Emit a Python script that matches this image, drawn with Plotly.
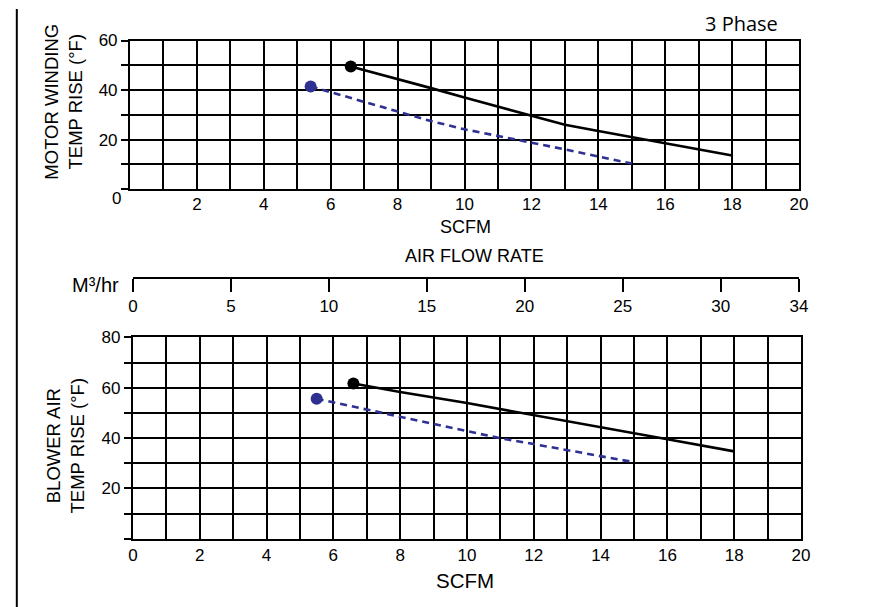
import plotly.graph_objects as go

W, H = 873, 607

# ---- data ----
top_black_x = [6.6, 8, 9, 10, 11, 12, 13, 14, 15, 16, 17, 18]
top_black_y = [49.5, 44.5, 40.8, 37, 33.4, 29.8, 26, 23.5, 21, 18.6, 16, 13.6]
top_blue_x = [5.4, 7, 8, 9, 10, 11, 12, 13, 14, 15]
top_blue_y = [41.5, 35.2, 31.2, 27.5, 24.2, 21.6, 19, 16.1, 13.2, 10.4]

bot_black_x = [6.6, 8, 10, 12, 14, 16, 18]
bot_black_y = [61.7, 58.3, 53.9, 49, 44.2, 39.5, 34.7]
bot_blue_x = [5.5, 7, 8, 9, 10, 11, 12, 13, 14, 15]
bot_blue_y = [55.6, 51.3, 48.4, 45.5, 42.8, 39.9, 37.6, 35.2, 32.8, 30.4]

x_grid = list(range(0, 21))
top_x_text = ["" if (v % 2 or v == 0) else str(v) for v in x_grid]
bot_x_text = ["" if v % 2 else str(v) for v in x_grid]
top_y_vals = [0, 10, 20, 30, 40, 50, 60]
top_y_text = ["", "", "20", "", "40", "", "60"]
bot_y_vals = [0, 10, 20, 30, 40, 50, 60, 70, 80]
bot_y_text = ["", "", "20", "", "40", "", "60", "", "80"]
m3_vals = [0, 5, 10, 15, 20, 25, 30, 34]
m3_text = [str(v) for v in m3_vals]

BLUE = "#2e3192"
FONT = "Liberation Sans, Arial, sans-serif"

def px(x):
    return x / W

def py(y):
    return 1 - y / H

fig = go.Figure()

def add_series(xs, ys, color, dash, xa, ya):
    fig.add_trace(go.Scatter(x=xs, y=ys, mode="lines", xaxis=xa, yaxis=ya,
                             line=dict(color=color, width=2.6, dash=dash),
                             showlegend=False, hoverinfo="skip"))
    fig.add_trace(go.Scatter(x=xs[:1], y=ys[:1], mode="markers", xaxis=xa, yaxis=ya,
                             marker=dict(color=color, size=12),
                             showlegend=False, hoverinfo="skip"))

add_series(top_black_x, top_black_y, "black", "solid", "x", "y")
add_series(top_blue_x, top_blue_y, BLUE, "7px,5px", "x", "y")
add_series(bot_black_x, bot_black_y, "black", "solid", "x2", "y2")
add_series(bot_blue_x, bot_blue_y, BLUE, "7px,5px", "x2", "y2")

# invisible trace for the m3/hr scale axis
fig.add_trace(go.Scatter(x=[0, 34], y=[0, 0], xaxis="x3", yaxis="y3", mode="markers",
                         marker=dict(opacity=0), showlegend=False, hoverinfo="skip"))

TICKFONT = dict(family=FONT, size=17, color="black")
common_x = dict(showgrid=True, gridcolor="black", gridwidth=2, showline=True,
                linecolor="black", linewidth=2, mirror=True, ticks="",
                zeroline=False, tickfont=TICKFONT, fixedrange=True)
common_y = dict(showgrid=True, gridcolor="black", gridwidth=2, showline=True,
                linecolor="black", linewidth=2, mirror=True, ticks="outside",
                ticklen=7, tickwidth=2, tickcolor="black", zeroline=False,
                tickfont=TICKFONT, fixedrange=True)

fig.update_layout(
    width=W, height=H, margin=dict(l=0, r=0, t=0, b=0),
    paper_bgcolor="white", plot_bgcolor="white",
    xaxis=dict(domain=[px(127), px(807)], range=[0, 20], anchor="y",
               tickmode="array", tickvals=x_grid, ticktext=top_x_text,
               ticklabelstandoff=-2, **common_x),
    yaxis=dict(domain=[py(183), py(32)], range=[0, 60], anchor="x",
               tickmode="array", tickvals=top_y_vals, ticktext=top_y_text, **common_y),
    xaxis2=dict(domain=[px(130), px(809)], range=[0, 20], anchor="y2",
                tickmode="array", tickvals=x_grid, ticktext=bot_x_text, **common_x),
    yaxis2=dict(domain=[py(537.7), py(333.3)], range=[0, 80], anchor="x2",
                tickmode="array", tickvals=bot_y_vals, ticktext=bot_y_text, **common_y),
    xaxis3=dict(domain=[px(130), px(807)], range=[0, 34], anchor="y3",
                tickmode="array", tickvals=m3_vals, ticktext=m3_text,
                showgrid=False, zeroline=False, showline=True, linecolor="black",
                linewidth=2, ticks="outside", ticklen=13, tickwidth=2, tickcolor="black",
                tickfont=TICKFONT, fixedrange=True),
    yaxis3=dict(domain=[py(271.7), py(268)], visible=False, anchor="x3", fixedrange=True),
)

def ann(text, x, y, size=16, angle=0, family=FONT, xanchor="center"):
    fig.add_annotation(text=text, x=px(x), y=py(y), xref="paper", yref="paper",
                       showarrow=False, textangle=angle, xanchor=xanchor, yanchor="middle",
                       font=dict(family=family, size=size, color="black"))

ann("3 Phase", 748, 15, size=20, family="Open Sans, sans-serif")
ann("0", 113, 192, size=17)
ann("SCFM", 468, 221, size=18)
ann("AIR FLOW RATE", 477, 251, size=18)
ann("M³/hr", 118, 280, size=20, xanchor="right")
ann("MOTOR WINDING<br>TEMP RISE (°F)", 60, 94, size=18.5, angle=-90)
ann("BLOWER AIR<br>TEMP RISE (°F)", 61, 443, size=18.5, angle=-90)
ann("SCFM", 468, 580, size=20.5)

fig.add_shape(type="line", xref="paper", yref="paper", x0=px(12), x1=px(12), y0=0, y1=1,
              line=dict(color="black", width=2))

fig.write_html("out.html", config={"displayModeBar": False, "staticPlot": True},
               post_script="document.body.style.margin='0';")
